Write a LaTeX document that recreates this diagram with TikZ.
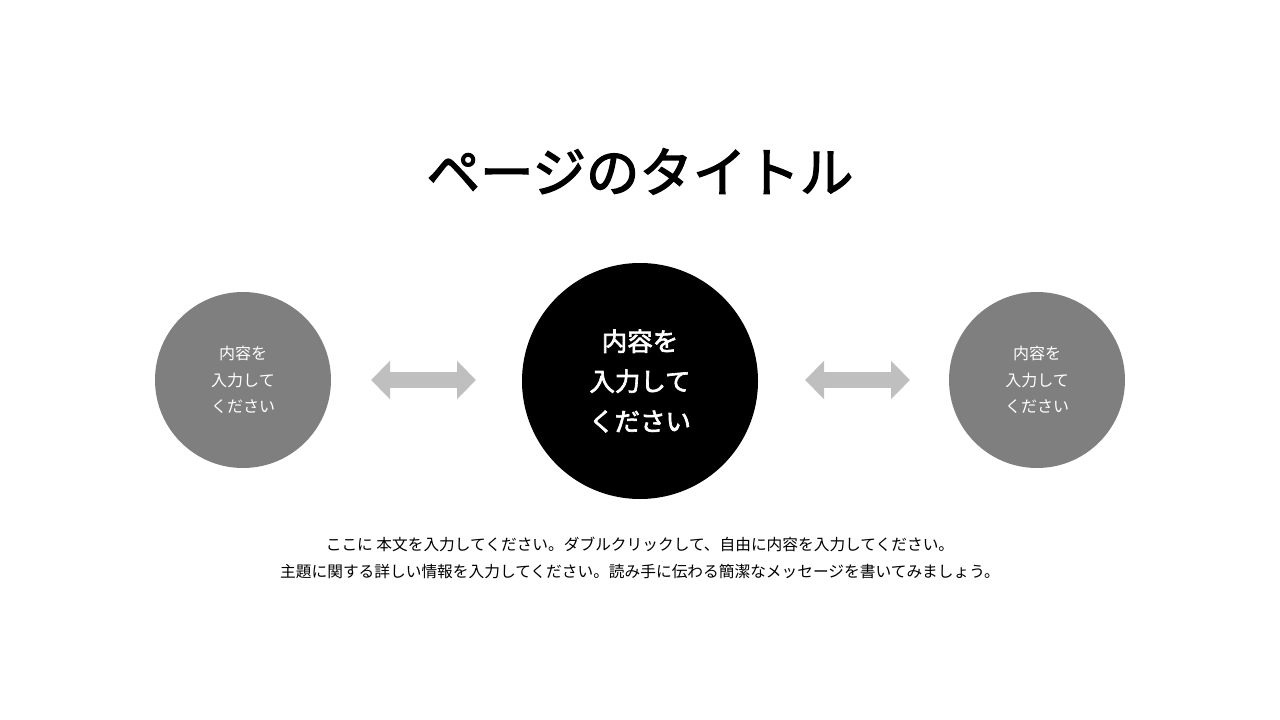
\documentclass[tikz,border=0pt]{standalone}
\usepackage{fontspec}
\setmainfont{Noto Sans CJK JP}
\newfontfamily\medfont[FakeBold=2.5]{Noto Sans CJK JP}
\usetikzlibrary{arrows.meta}
\definecolor{sidegray}{HTML}{7F7F7F}
\definecolor{arrowgray}{HTML}{BFBFBF}
\tikzset{
  sidecircle/.style={circle, fill=sidegray, minimum size=176pt, inner sep=0pt, text=white,
    align=center, font=\fontsize{16}{26.5}\selectfont},
  maincircle/.style={circle, fill=black, minimum size=236pt, inner sep=0pt, text=white,
    align=center, font=\medfont\fontsize{25.5}{40}\selectfont},
  bigarrow/.style={draw=arrowgray, line width=16pt,
    {Triangle[length=19pt 0 0, width=37pt 0 0]}-{Triangle[length=19pt 0 0, width=37pt 0 0]}},
  titletext/.style={font=\medfont\fontsize{53.5}{60}\selectfont, anchor=base},
  bodytext/.style={font=\fontsize{15.7}{27}\selectfont, align=center, anchor=center}
}
\begin{document}
\begin{tikzpicture}[x=1pt, y=-1pt]
\useasboundingbox (0,0) rectangle (1280,720);
\node[titletext] (title) at (640,192) {ページのタイトル};
\node[sidecircle] (L) at (243,380) {内容を\\入力して\\ください};
\node[maincircle] (M) at (640,381) {内容を\\入力して\\ください};
\node[sidecircle] (R) at (1037,380) {内容を\\入力して\\ください};
\coordinate (a1) at (371,380);
\coordinate (a2) at (476,380);
\coordinate (b1) at (805,380);
\coordinate (b2) at (910,380);
\draw[bigarrow] (a1) -- (a2);
\draw[bigarrow] (b1) -- (b2);
\node[bodytext] (body) at (640,558) {ここに 本文を入力してください。ダブルクリックして、自由に内容を入力してください。\\主題に関する詳しい情報を入力してください。読み手に伝わる簡潔なメッセージを書いてみましょう。};
\end{tikzpicture}
\end{document}
